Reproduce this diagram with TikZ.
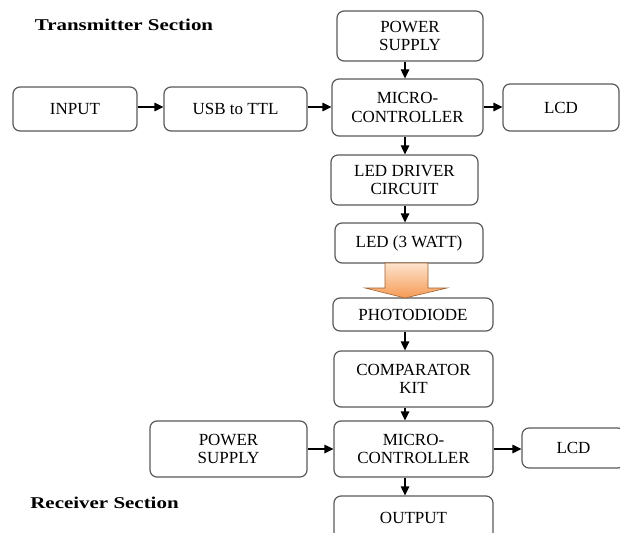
\documentclass[tikz,border=0pt]{standalone}
\usepackage{fontspec}
\setmainfont{Liberation Serif}
\usetikzlibrary{arrows.meta}
\definecolor{boxline}{HTML}{5A5A5A}
\definecolor{peach}{HTML}{FDE3CC}
\definecolor{orng}{HTML}{F59A55}
\definecolor{orngline}{HTML}{A0602E}
\begin{document}
\begin{tikzpicture}[x=1pt,y=-1pt,
  blk/.style={draw=boxline,line width=1.2pt,rounded corners=7pt,fill=white,
    align=center,inner sep=0pt,font=\fontsize{17}{18.5}\selectfont},
  arr/.style={line width=1.2pt,-{Triangle[length=9pt,width=8.5pt]}},
  ttl/.style={font=\fontsize{16.5}{19}\selectfont\bfseries,inner sep=0pt}]
\clip (0,0) rectangle (620,532);
\fill[white] (0,0) rectangle (620,532);
% transmitter
\node[ttl] (tt) at (124,25) {\scalebox{1.27}[1]{Transmitter Section}};
\node[blk,minimum width=146pt,minimum height=50pt] (ps1) at (410,36) {POWER\\SUPPLY};
\node[blk,minimum width=151pt,minimum height=57pt] (mc1) at (407.5,107.5) {MICRO-\\CONTROLLER};
\node[blk,minimum width=124pt,minimum height=44pt] (in) at (75,109) {INPUT};
\node[blk,minimum width=143pt,minimum height=44pt] (usb) at (235.5,109) {USB to TTL};
\node[blk,minimum width=116pt,minimum height=47pt] (lcd1) at (561,107.5) {LCD};
\node[blk,minimum width=147pt,minimum height=50pt] (drv) at (404.5,180) {LED DRIVER\\CIRCUIT};
\node[blk,minimum width=148pt,minimum height=40pt] (led) at (409,243) {LED (3 WATT)};
% receiver
\node[blk,minimum width=160pt,minimum height=33pt] (pd) at (413,314.5) {PHOTODIODE};
\node[blk,minimum width=159pt,minimum height=56pt] (cmp) at (413.5,379) {COMPARATOR\\KIT};
\node[blk,minimum width=159pt,minimum height=56pt] (mc2) at (413.5,449) {MICRO-\\CONTROLLER};
\node[blk,minimum width=157pt,minimum height=56pt] (ps2) at (228.5,449) {POWER\\SUPPLY};
\node[blk,minimum width=103pt,minimum height=40pt] (lcd2) at (573.5,448) {LCD};
\node[blk,minimum width=159pt,minimum height=44pt] (out) at (413.5,518) {OUTPUT};
\node[ttl] (rt) at (104.5,503) {\scalebox{1.27}[1]{Receiver Section}};
% arrows
\coordinate (ax) at (405,0);
\coordinate (r1) at (0,107);
\coordinate (r2) at (0,449);
\draw[arr] (ps1.south -| ax) -- (mc1.north -| ax);
\draw[arr] (mc1.south -| ax) -- (drv.north -| ax);
\draw[arr] (drv.south -| ax) -- (led.north -| ax);
\draw[arr] (pd.south -| ax) -- (cmp.north -| ax);
\draw[arr] (cmp.south -| ax) -- (mc2.north -| ax);
\draw[arr] (mc2.south -| ax) -- (out.north -| ax);
\draw[arr] (in.east |- r1) -- (usb.west |- r1);
\draw[arr] (usb.east |- r1) -- (mc1.west |- r1);
\draw[arr] (mc1.east |- r1) -- (lcd1.west |- r1);
\draw[arr] (ps2.east |- r2) -- (mc2.west |- r2);
\draw[arr] (mc2.east |- r2) -- (lcd2.west |- r2);
% light arrow
\draw[draw=orngline,line width=0.6pt,top color=peach,bottom color=orng]
  (385,263) -- (428,263) -- (428,288) -- (447,288) -- (405,298) -- (365,288) -- (385,288) -- cycle;
\end{tikzpicture}
\end{document}
